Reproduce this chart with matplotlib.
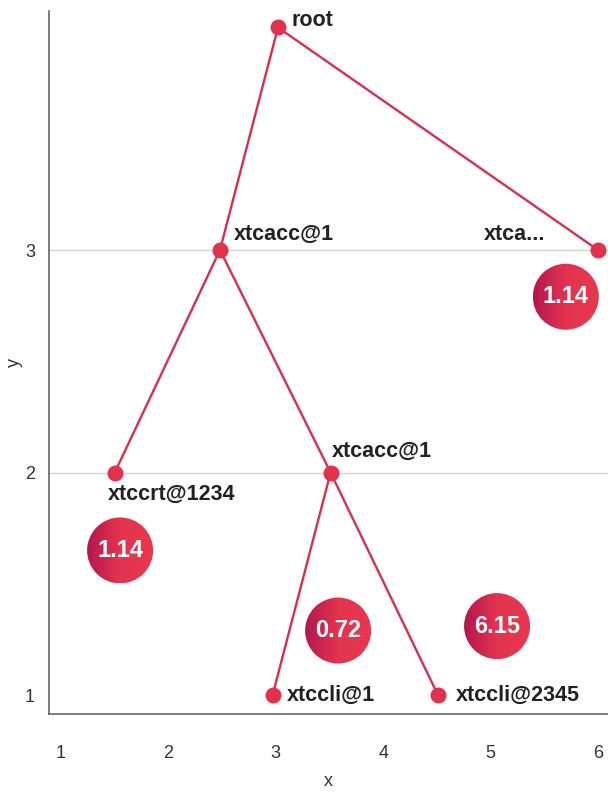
import numpy as np
import matplotlib.pyplot as plt
from matplotlib.patches import Ellipse
from matplotlib.colors import LinearSegmentedColormap

plt.rcParams['font.family'] = ['Liberation Sans', 'DejaVu Sans']

# Tree nodes
node_names = ['root', 'xtcacc@1', 'xtca...', 'xtccrt@1234', 'xtcacc@1', 'xtccli@1', 'xtccli@2345']
node_x = [3.02, 2.48, 6.0, 1.5, 3.51, 2.97, 4.51]
node_y = [4.0, 3.0, 3.0, 2.0, 2.0, 1.0, 1.0]
parents = [None, 0, 0, 1, 1, 4, 4]

# Value bubbles
bubble_labels = ['1.14', '1.14', '0.72', '6.15']
bubble_x = [5.7, 1.55, 3.58, 5.06]
bubble_y = [2.79, 1.65, 1.29, 1.31]

# label offsets (points) and alignment
label_off = [(10, 5), (10, 11), (-38, 11), (-5, -16), (1, 15), (10, 0), (13, 0)]
label_ha = ['left', 'left', 'right', 'left', 'left', 'left', 'left']

red = '#e1314c'

fig = plt.figure(figsize=(6.08, 7.92), dpi=100)
ax = fig.add_axes([49 / 608, 1 - 714 / 792, 1 - 49 / 608, (714 - 11) / 792])
ax.set_xlim(0.888, 6.093)
ax.set_ylim(0.915, 4.074)

for sp in ['top', 'right']:
    ax.spines[sp].set_visible(False)
for sp in ['left', 'bottom']:
    ax.spines[sp].set_color('#666666')
    ax.spines[sp].set_linewidth(1.2)

ax.set_xticks([1, 2, 3, 4, 5, 6])
ax.set_yticks([1, 2, 3])
ax.tick_params(length=0, labelsize=13, colors='#333333', pad=22)
ax.tick_params(axis='y', pad=10)
for y in [2, 3]:
    ax.axhline(y, color='#d3d3d3', lw=1, zorder=0)
ax.set_xlabel('x', fontsize=13, color='#333333', labelpad=8)
ax.set_ylabel('y', fontsize=13, color='#333333')
ax.yaxis.set_label_coords(-0.046, 0.5)

# edges
for i, p in enumerate(parents):
    if p is None:
        continue
    ax.plot([node_x[p], node_x[i]], [node_y[p], node_y[i]], color='#d92f4e', lw=1.7, zorder=2)

ax.plot(node_x, node_y, 'o', color=red, markersize=10.5, zorder=3, linestyle='none')

for i, name in enumerate(node_names):
    ax.annotate(name, (node_x[i], node_y[i]), xytext=label_off[i], textcoords='offset points',
                ha=label_ha[i], va='center', fontsize=15.5, fontweight='bold', color='#222222')

# gradient bubbles
cmap = LinearSegmentedColormap.from_list('bub', [(0, '#b3174f'), (0.5, '#e3344f'), (1, '#e8384f')])
grad = np.tile(np.linspace(0, 1, 200), (10, 1))
w = 66 / 107.4
h = 66 / 222.5
for bx, by, lab in zip(bubble_x, bubble_y, bubble_labels):
    e = Ellipse((bx, by), w, h, facecolor='none', edgecolor='none')
    ax.add_patch(e)
    im = ax.imshow(grad, cmap=cmap, extent=[bx - w / 2, bx + w / 2, by - h / 2, by + h / 2],
                   aspect='auto', zorder=4, interpolation='bilinear')
    im.set_clip_path(e)
    ax.text(bx, by, lab, ha='center', va='center', fontsize=17, fontweight='bold',
            color='white', zorder=5)

ax.set_xlim(0.888, 6.093)
ax.set_ylim(0.915, 4.074)

fig.savefig('out.png', dpi=100)
